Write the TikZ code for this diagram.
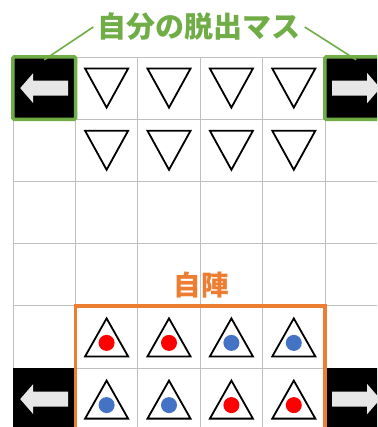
\documentclass[tikz,border=0pt]{standalone}
\usepackage{fontspec}
\newfontfamily\jp{Noto Sans CJK JP}
\definecolor{exitgreen}{HTML}{70AD47}
\definecolor{camporange}{HTML}{ED7D31}
\definecolor{gridgray}{HTML}{BFBFBF}
\definecolor{arrowgray}{HTML}{E7E7E7}
\definecolor{dotred}{HTML}{FF0000}
\definecolor{dotblue}{HTML}{4472C4}
\tikzset{
  gridline/.style={draw=gridgray, line width=0.8pt},
  blackcell/.style={fill=black, draw=none, minimum width=62.4pt, minimum height=62.2pt, inner sep=0pt},
  exitframe/.style={draw=exitgreen, line width=3.5pt, rounded corners=1.5pt},
  blockarrow/.style={fill=arrowgray, draw=none},
  piece/.style={draw=black, line width=1.8pt, fill=white, line join=miter},
  dot/.style={circle, inner sep=0pt, minimum size=16pt},
  greenlabel/.style={text=exitgreen, font=\jp\bfseries\fontsize{29}{31}\selectfont, inner sep=4pt},
  orangelabel/.style={text=camporange, font=\jp\bfseries\fontsize{27.5}{30}\selectfont, inner sep=2pt},
  pointer/.style={draw=exitgreen, line width=1.6pt},
  campframe/.style={draw=camporange, line width=3.5pt}
}
\begin{document}
\begin{tikzpicture}[x=1pt,y=-1pt]
\useasboundingbox (0,0) rectangle (377,427);
\begin{scope}
\clip (0,0) rectangle (377,427);
\fill[white] (0,0) rectangle (377,427);
% grid
\foreach \i in {0,...,6} {
  \draw[gridline] ({13+62.4*\i},57) -- ({13+62.4*\i},440);
}
\foreach \j in {0,...,6} {
  \draw[gridline] (13,{57+62.2*\j}) -- (400,{57+62.2*\j});
}
% black exit cells
\node[blackcell] (exitTL) at (44.2,88.1) {};
\node[blackcell] (exitTR) at (356.2,88.1) {};
\node[blackcell] (exitBL) at (44.2,399.1) {};
\node[blackcell] (exitBR) at (356.2,399.1) {};
% arrows
\foreach \n in {exitTL,exitBL} {
  \fill[blockarrow] ([shift={(-24,0)}]\n.center) -- ++(13,-15) -- ++(0,7.5) -- ++(35,0) -- ++(0,15) -- ++(-35,0) -- ++(0,7.5) -- cycle;
}
\foreach \n in {exitTR,exitBR} {
  \fill[blockarrow] ([shift={(24,0)}]\n.center) -- ++(-13,-15) -- ++(0,7.5) -- ++(-35,0) -- ++(0,15) -- ++(35,0) -- ++(0,7.5) -- cycle;
}
% green frames
\draw[exitframe] (exitTL.south west) rectangle (exitTL.north east);
\draw[exitframe] (exitTR.south west) rectangle (exitTR.north east);
% down triangles
\foreach \i in {1,...,4} {
  \foreach \j in {0,1} {
    \coordinate (d\i\j) at ({13+62.4*\i+31.2},{57+62.2*\j+31.1});
    \draw[piece] ([shift={(-21.5,-19.5)}]d\i\j) -- ++(43,0) -- ++(-21.5,39) -- cycle;
  }
}
% up triangles with dots
\foreach \i/\ca/\cb in {1/dotred/dotblue,2/dotred/dotblue,3/dotblue/dotred,4/dotblue/dotred} {
  \coordinate (u\i4) at ({13+62.4*\i+31.2},{57+62.2*4+31.1});
  \coordinate (u\i5) at ({13+62.4*\i+31.2},{57+62.2*5+31.1});
  \draw[piece] ([shift={(-21.5,19.5)}]u\i4) -- ++(43,0) -- ++(-21.5,-38) -- cycle;
  \draw[piece] ([shift={(-21.5,19.5)}]u\i5) -- ++(43,0) -- ++(-21.5,-38) -- cycle;
  \node[dot, fill=\ca] (p\i4) at ([shift={(0,6)}]u\i4) {};
  \node[dot, fill=\cb] (p\i5) at ([shift={(0,6)}]u\i5) {};
}
% camp frame
\draw[campframe] (75.4,306) rectangle (325,445);
\end{scope}
% labels
\node[greenlabel] (exitlabel) at (199,27) {自分の脱出マス};
\draw[pointer] (exitlabel.west) -- ([yshift=-3pt]exitTL.north);
\draw[pointer] (exitlabel.east) -- ([yshift=-3pt]exitTR.north);
\node[orangelabel] (camplabel) at (201,285) {自陣};
\end{tikzpicture}
\end{document}
